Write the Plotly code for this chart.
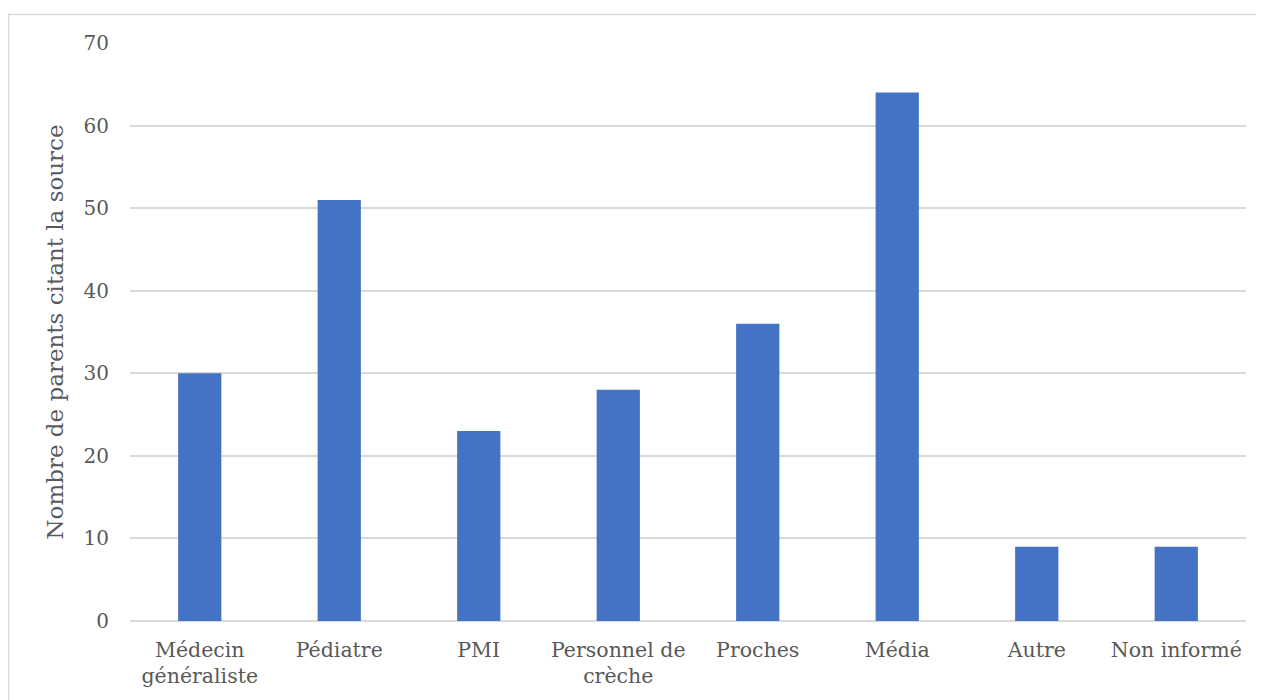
import plotly.graph_objects as go

categories = ["Médecin<br>généraliste", "Pédiatre", "PMI", "Personnel de<br>crèche",
              "Proches", "Média", "Autre", "Non informé"]
values = [30, 51, 23, 28, 36, 64, 9, 9]
y_ticks = [0, 10, 20, 30, 40, 50, 60, 70]

FONT = "'DejaVu Serif', Georgia, serif"

fig = go.Figure(go.Bar(x=categories, y=values, marker=dict(color="#4472C4", line=dict(width=0))))

fig.update_layout(
    width=1264, height=700,
    margin=dict(l=122, r=26, t=35, b=87),
    paper_bgcolor="white", plot_bgcolor="white",
    bargap=0.69,
    showlegend=False,
    font=dict(family=FONT, color="#595959", size=20),
)
fig.update_xaxes(showgrid=False, showline=False, ticks="", tickangle=0, ticklabelstandoff=14,
                 tickfont=dict(family=FONT, size=20.5, color="#595959"))
fig.update_yaxes(range=[0, 70], tickvals=y_ticks, showgrid=True, gridcolor="#d9d9d9",
                 gridwidth=1.5, zeroline=True, zerolinecolor="#d9d9d9", zerolinewidth=1.5,
                 ticks="", ticklabelstandoff=20,
                 tickfont=dict(family=FONT, size=20, color="#595959"),
                 title=dict(text="Nombre de parents citant la source", standoff=13,
                            font=dict(family=FONT, size=23, color="#595959")))
fig.add_shape(type="rect", xref="paper", yref="paper",
              x0=-0.1089, x1=1.05, y0=-0.3, y1=1.0493,
              line=dict(color="#d9d9d9", width=1.5), fillcolor="rgba(0,0,0,0)", layer="below")

fig.write_html("out.html")
